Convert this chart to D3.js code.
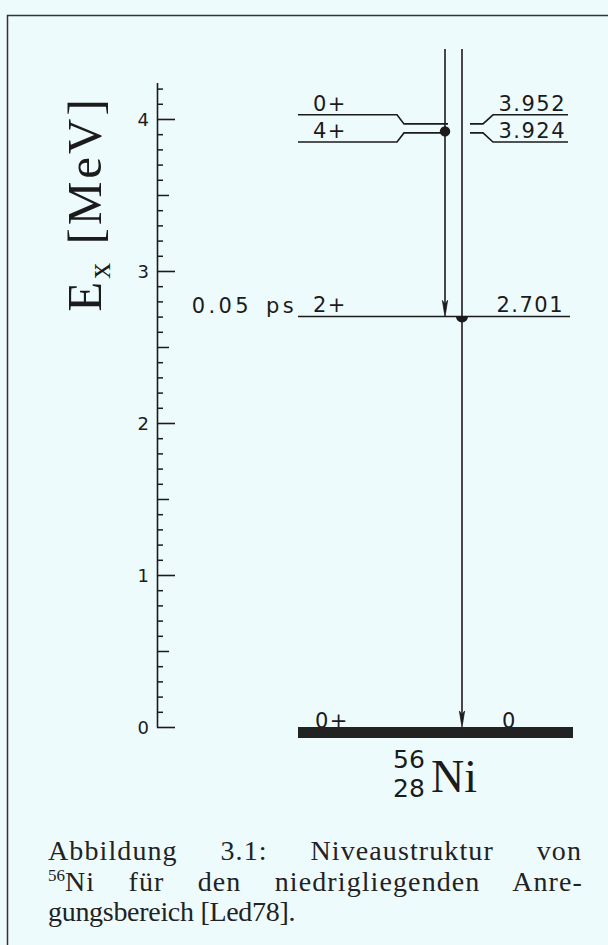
<!DOCTYPE html>
<html>
<head>
<meta charset="utf-8">
<script src="https://cdn.jsdelivr.net/npm/d3@7"></script>
<style>
html,body{margin:0;padding:0;background:#eefbfd;}
svg{display:block;}
</style>
</head>
<body>
<svg id="c" width="608" height="945"></svg>
<script>
// ---- data ----
const majorTicks = [0, 1, 2, 3, 4];
const tickLabels = ["0", "1", "2", "3", "4"];
const levelEnergies = [0, 2.701, 3.924, 3.952];
const levelSpins = ["0+", "2+", "4+", "0+"];
const levelLabels = ["0", "2.701", "3.924", "3.952"];
const lifetimes = [null, "0.05 ps", null, null];
const transFrom = [3.924, 2.701];
const transTo = [2.701, 0];
const nucleusMass = "56", nucleusZ = "28", nucleusSym = "Ni";
const captionLines = ["Abbildung 3.1: Niveaustruktur von", "Ni für den niedrigliegenden Anre-", "gungsbereich [Led78]."];

// ---- layout ----
const svg = d3.select("#c");
const ink = "#1b1b1b";
const W = 608, H = 945;
svg.append("rect").attr("width", W).attr("height", H).attr("fill", "#eefbfd");

// frame
svg.append("path").attr("d", "M7.5,945 V15.5 H608").attr("fill", "none")
  .attr("stroke", "#333").attr("stroke-width", 1.5);

const y = d3.scaleLinear().domain([0, 4.24]).range([727, 82.5]);
const axX = 157;

// axis: major
const gMaj = svg.append("g").attr("transform", `translate(${axX},0)`)
  .call(d3.axisRight(y).tickValues(majorTicks).tickSize(18).tickSizeOuter(0)
    .tickFormat((d, i) => tickLabels[i]));
gMaj.selectAll("path.domain").attr("stroke", ink).attr("stroke-width", 1.6);
gMaj.selectAll(".tick line").attr("stroke", ink).attr("stroke-width", 1.6);
gMaj.selectAll(".tick text").attr("x", -8).attr("text-anchor", "end")
  .attr("font-family", "DejaVu Sans").attr("font-size", 18).attr("fill", ink).attr("dy", "0.36em");

// medium (0.5)
const halfTicks = d3.range(0.5, 4.24, 1);
svg.append("g").attr("transform", `translate(${axX},0)`)
  .call(d3.axisRight(y).tickValues(halfTicks).tickSize(12).tickSizeOuter(0).tickFormat(""))
  .call(g => g.select("path.domain").remove())
  .call(g => g.selectAll(".tick line").attr("stroke", ink).attr("stroke-width", 1.5));

// minor (0.1)
const minorTicks = d3.range(1, 43).map(i => i / 10).filter((d, i) => (i + 1) % 5 !== 0);
svg.append("g").attr("transform", `translate(${axX},0)`)
  .call(d3.axisRight(y).tickValues(minorTicks).tickSize(6).tickSizeOuter(0).tickFormat(""))
  .call(g => g.select("path.domain").remove())
  .call(g => g.selectAll(".tick line").attr("stroke", ink).attr("stroke-width", 1.5));

// axis title
const tt = svg.append("text").attr("transform", `translate(101,204) rotate(-90)`)
  .attr("text-anchor", "middle").attr("font-family", "Liberation Serif").attr("font-size", 49)
  .attr("fill", ink).attr("letter-spacing", 3);
tt.append("tspan").text("E");
tt.append("tspan").attr("font-size", 32).attr("dy", 9).text("x");
tt.append("tspan").attr("dy", -9).text(" [MeV]");

// ---- levels ----
const xL = 298, xR = 570;
const lab = { "font-family": "DejaVu Sans", "font-size": 21, fill: ink, "letter-spacing": 1.5 };
function T(x, yy, s, anchor) {
  const t = svg.append("text").attr("x", x).attr("y", yy).attr("text-anchor", anchor || "start").text(s);
  for (const k in lab) t.attr(k, lab[k]);
  return t;
}
const lw = 1.6;

// transitions feeding lines + arrows
const arrowX = [445, 462];
const topY = 49;
transFrom.forEach((f, i) => {
  const x = arrowX[i], yt = y(transTo[i]);
  svg.append("line").attr("x1", x).attr("x2", x).attr("y1", topY).attr("y2", yt - 4)
    .attr("stroke", ink).attr("stroke-width", lw);
  svg.append("path").attr("d", `M${x},${yt} L${x - 2.6},${yt - 16} L${x},${yt - 12} L${x + 2.6},${yt - 16} Z`)
    .attr("fill", ink).attr("stroke", ink).attr("stroke-width", 0.8);
});

// doublet near 3.9 MeV
const dMid = y((levelEnergies[2] + levelEnergies[3]) / 2);
const dispY = {};
[2, 3].forEach(i => {
  const s = i === 3 ? -1 : 1;
  const inner = dMid + s * 4.5, outer = dMid + s * 13.6;
  dispY[i] = inner;
  svg.append("path").attr("d", `M${xL},${outer} H397 L404,${inner} H448`)
    .attr("fill", "none").attr("stroke", ink).attr("stroke-width", lw);
  svg.append("path").attr("d", `M470,${inner} H483 L493,${outer} H568`)
    .attr("fill", "none").attr("stroke", ink).attr("stroke-width", lw);
  T(313, outer - 4, levelSpins[i]);
  T(566, outer - 4, levelLabels[i], "end");
});

// 2+ level
{
  const yy = y(levelEnergies[1]);
  svg.append("line").attr("x1", xL).attr("x2", xR).attr("y1", yy).attr("y2", yy)
    .attr("stroke", ink).attr("stroke-width", lw);
  T(313, yy - 4, levelSpins[1]);
  T(564, yy - 4, levelLabels[1], "end");
  T(297, yy - 3, lifetimes[1].replace(" ", "\u2002"), "end").attr("letter-spacing", 3.4);
}

// dots (populated states)
svg.append("circle").attr("cx", arrowX[0]).attr("cy", dispY[2] - 1.5).attr("r", 5.2).attr("fill", ink);
{
  const yy = y(levelEnergies[1]), cx = arrowX[1];
  svg.append("path").attr("d", `M${cx - 6},${yy} A6,6 0 0 0 ${cx + 6},${yy} Z`).attr("fill", ink);
}

// ground state
{
  const yy = y(levelEnergies[0]);
  T(315, yy + 1, levelSpins[0]);
  T(502, yy + 1, levelLabels[0]);
  svg.append("rect").attr("x", xL).attr("y", yy).attr("width", 275).attr("height", 11).attr("fill", "#222");
}

// nucleus label
T(393, 768, nucleusMass).attr("font-size", 25).attr("letter-spacing", 0);
T(393, 797, nucleusZ).attr("font-size", 25).attr("letter-spacing", 0);
svg.append("text").attr("x", 431).attr("y", 792).attr("font-family", "Liberation Serif")
  .attr("font-size", 46).attr("fill", ink).text(nucleusSym);

// caption (justified by word spacing)
const cap = { "font-family": "Liberation Serif", "font-size": 28, fill: "#222", "letter-spacing": 1.1 };
const cx0 = 48;
function justify(t, target) {
  const nat = t.node().getComputedTextLength();
  const nSp = (t.text().match(/ /g) || []).length;
  if (nSp > 0) t.attr("word-spacing", (target - nat) / nSp);
}
const c1 = svg.append("text").attr("x", cx0).attr("y", 860).text(captionLines[0]);
const c2 = svg.append("text").attr("x", cx0).attr("y", 891);
c2.append("tspan").attr("dy", -10).text(nucleusMass);
c2.append("tspan").attr("dy", 10).text(captionLines[1]);
const c3 = svg.append("text").attr("x", cx0).attr("y", 921).text(captionLines[2]);
[c1, c2, c3].forEach(t => { for (const k in cap) t.attr(k, cap[k]); });
c2.select("tspan").attr("font-size", 17).attr("letter-spacing", 0);
c3.attr("letter-spacing", -0.3);
justify(c1, 534);
justify(c2, 535);
</script>
</body>
</html>
